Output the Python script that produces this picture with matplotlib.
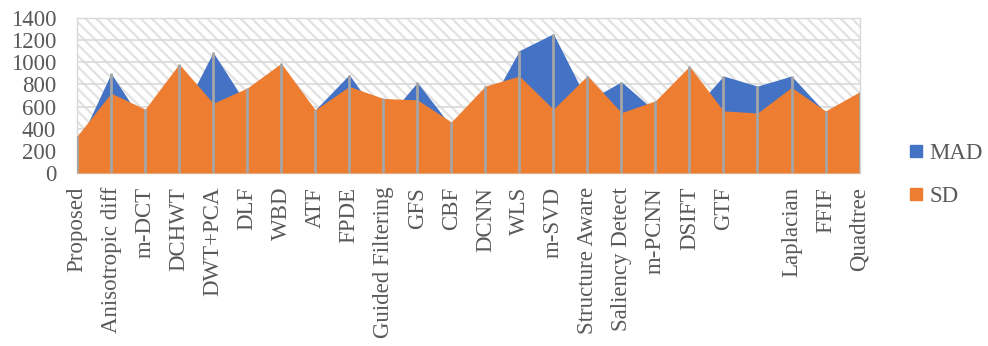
import matplotlib
matplotlib.use('Agg')
import matplotlib.pyplot as plt
import numpy as np
from matplotlib.patches import Rectangle
from matplotlib.lines import Line2D

methods = ['Proposed', 'Anisotropic diff', 'm-DCT', 'DCHWT', 'DWT+PCA', 'DLF', 'WBD',
           'ATF', 'FPDE', 'Guided Filtering', 'GFS', 'CBF', 'DCNN', 'WLS', 'm-SVD',
           'Structure Aware', 'Saliency Detect', 'm-PCNN', 'DSIFT', 'GTF', '',
           'Laplacian', 'FFIF', 'Quadtree']
mad = [240, 900, 430, 490, 1090, 610, 750, 570, 888, 455, 818, 420, 550, 1105, 1258,
       650, 824, 555, 530, 876, 785, 876, 545, 650]
sd = [333, 721, 576, 985, 630, 767, 991, 570, 782, 673, 661, 461, 785, 876, 576,
      879, 545, 652, 964, 561, 542, 773, 560, 733]

blue = '#4472C4'
orange = '#ED7D31'
txt = '#595959'

plt.rcParams['font.family'] = ['Liberation Serif', 'DejaVu Serif']
plt.rcParams['hatch.linewidth'] = 1.6

fig = plt.figure(figsize=(9.88, 3.46), dpi=100)
ax = fig.add_axes([0.078, 0.5, 0.792, 0.448])

x = np.arange(len(methods))
# hatched plot area
ax.add_patch(Rectangle((0, 0), 1, 1, transform=ax.transAxes, facecolor='white',
                       edgecolor='#e2e2e2', hatch='\\\\\\', lw=0, zorder=0))
ax.fill_between(x, mad, color=blue, lw=0, zorder=2)
ax.fill_between(x, sd, color=orange, lw=0, zorder=3)
# drop lines
ax.vlines(x, 0, np.maximum(mad, sd), color='#a5a5a5', lw=2, zorder=4)

ax.set_xlim(0, len(methods) - 1)
ax.set_ylim(0, 1400)
ax.set_yticks(range(0, 1401, 200))
ax.set_xticks(x)
ax.set_xticklabels(methods, rotation=90)
ax.yaxis.grid(True, color='#d9d9d9', lw=1.2, zorder=1)
ax.set_axisbelow(True)
ax.tick_params(axis='both', length=0, labelsize=16.5, labelcolor=txt)
ax.tick_params(axis='y', pad=15)
ax.tick_params(axis='x', pad=10)
for s in ax.spines.values():
    s.set_color('#d9d9d9')
    s.set_linewidth(1)

handles = [Line2D([], [], marker='s', ls='', color=blue, markersize=8),
           Line2D([], [], marker='s', ls='', color=orange, markersize=8)]
leg = fig.legend(handles, ['MAD', 'SD'], loc='center left', bbox_to_anchor=(0.897, 0.494),
                 frameon=False, fontsize=16.5, handletextpad=0.2, handlelength=0.8,
                 labelspacing=0.95)
for t in leg.get_texts():
    t.set_color(txt)

fig.savefig('out.png', dpi=100)
